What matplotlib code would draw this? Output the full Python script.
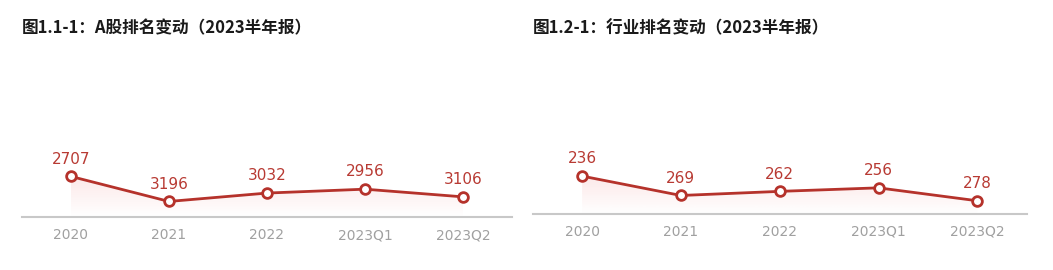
import numpy as np
import matplotlib
matplotlib.use("Agg")
import matplotlib.pyplot as plt
from matplotlib.colors import LinearSegmentedColormap
from matplotlib.patches import Polygon

plt.rcParams['font.family'] = ['Noto Sans CJK SC', 'DejaVu Sans']

categories = ["2020", "2021", "2022", "2023Q1", "2023Q2"]
a_share_rank = [2707, 3196, 3032, 2956, 3106]
industry_rank = [236, 269, 262, 256, 278]
title_left = "图1.1-1：A股排名变动（2023半年报）"
title_right = "图1.2-1：行业排名变动（2023半年报）"

LINE = "#b5322b"
LABEL = "#b83a33"

fig = plt.figure(figsize=(10.53, 2.70), dpi=100)


def panel(rect, values, ymax, title, title_x):
    ax = fig.add_axes(rect)
    x = np.arange(len(values))
    ax.set_xlim(-0.5, len(values) - 0.5)
    ax.set_ylim(ymax, 0)
    # gradient fill
    verts = [(x[0], ymax)] + list(zip(x, values)) + [(x[-1], ymax)]
    poly = Polygon(verts, closed=True, facecolor='none', edgecolor='none')
    ax.add_patch(poly)
    cmap = LinearSegmentedColormap.from_list(
        'g', [(0.93, 0.45, 0.45, 0.16), (0.93, 0.45, 0.45, 0.0)])
    grad = np.linspace(0, 1, 256).reshape(-1, 1)
    im = ax.imshow(grad, cmap=cmap, aspect='auto',
                   extent=(x[0], x[-1], ymax, min(values)), origin='upper',
                   zorder=1)
    im.set_clip_path(poly)
    ax.plot(x, values, color=LINE, lw=2, zorder=3)
    ax.plot(x, values, 'o', ms=7, mfc='white', mec=LINE, mew=2, zorder=4)
    for xi, v in zip(x, values):
        ax.annotate(str(v), (xi, v), xytext=(0, 7), textcoords='offset points',
                    ha='center', va='bottom', color=LABEL, fontsize=11,
                    fontfamily='DejaVu Sans')
    ax.set_xticks(x)
    ax.set_xticklabels(categories, fontfamily='DejaVu Sans')
    ax.tick_params(axis='x', length=0, pad=8, labelsize=10, labelcolor='#a0a0a0')
    ax.set_yticks([])
    for s in ['top', 'left', 'right']:
        ax.spines[s].set_visible(False)
    ax.spines['bottom'].set_color('#c8c8c8')
    ax.spines['bottom'].set_linewidth(1.5)
    ax.patch.set_alpha(0)
    fig.text(title_x, 1 - 28 / 270, title, fontsize=12, fontweight='bold',
             color='#1a1a1a', ha='left', va='center')
    return ax


panel([22 / 1053, 1 - 217 / 270, 490 / 1053, 179 / 270], a_share_rank, 3500,
      title_left, 22 / 1053)
panel([532.7 / 1053, 1 - 213.7 / 270, 494 / 1053, 176.3 / 270], industry_rank, 300,
      title_right, 533 / 1053)

fig.savefig("out.png", dpi=100)
